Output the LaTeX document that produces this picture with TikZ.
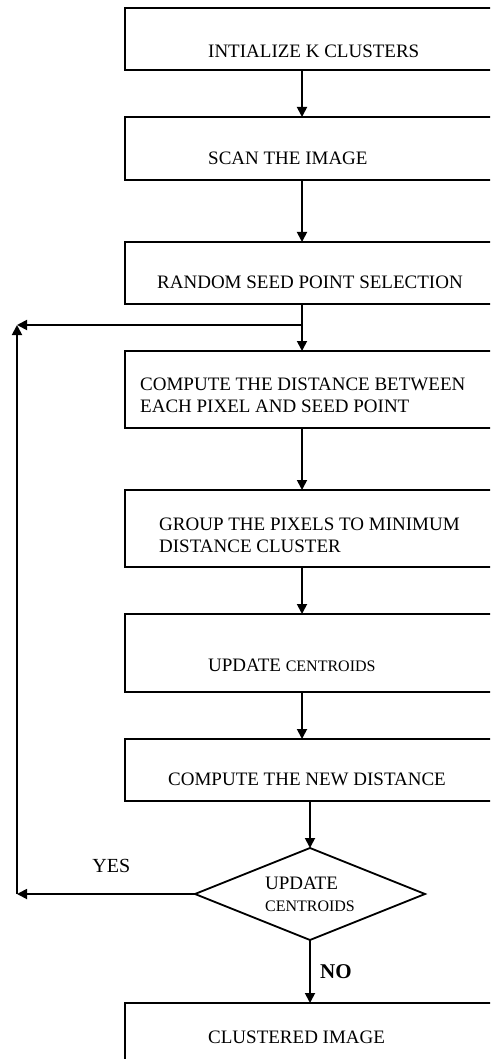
\documentclass[tikz,border=0pt]{standalone}
\usepackage{fontspec}
\setmainfont{Liberation Serif}
\usetikzlibrary{arrows.meta, positioning, shapes.geometric}

\begin{document}
\begin{tikzpicture}[
    x=1pt, y=-1pt,
    every node/.style={font=\fontsize{19}{22}\selectfont},
    process/.style={
        rectangle,
        draw=black,
        line width=1.8pt,
        minimum width=395pt,
        inner sep=0pt,
        outer sep=0pt
    },
    decision/.style={
        diamond,
        draw=black,
        line width=1.8pt,
        minimum width=230pt,
        minimum height=92pt,
        aspect=2.5,
        inner sep=0pt,
        outer sep=0pt,
        align=left
    },
    caption/.style={anchor=base west, inner sep=0pt, align=left},
    arrow/.style={line width=1.8pt, -{Triangle[length=10pt, width=10pt]}}
]
\useasboundingbox (0,0) rectangle (490,1059);
\clip (0,0) rectangle (490,1059);

\node[process, minimum height=62pt, anchor=north west] (init) at (125,8) {};
\node[process, minimum height=63pt, below=47pt of init] (scan) {};
\node[process, minimum height=62pt, below=62pt of scan] (random) {};
\node[process, minimum height=77pt, below=47pt of random] (compute) {};
\node[process, minimum height=77pt, below=62pt of compute] (group) {};
\node[process, minimum height=78pt, below=47pt of group] (update) {};
\node[process, minimum height=62pt, below=47pt of update] (newdist) {};
\node[decision, below=47pt of newdist, xshift=-12.5pt] (check) {UPDATE\\{\fontsize{16}{22}\selectfont CENTROIDS}};
\node[process, minimum height=80pt, below=63pt of check, xshift=12.5pt] (result) {};

\node[caption] (initText) at ([xshift=83pt, yshift=-50pt]init.north west) {INTIALIZE K CLUSTERS};
\node[caption] (scanText) at ([xshift=83pt, yshift=-48pt]scan.north west) {SCAN THE IMAGE};
\node[caption] (randomText) at ([xshift=32pt, yshift=-46pt]random.north west) {RANDOM SEED POINT SELECTION};
\node[caption] (computeText) at ([xshift=15pt, yshift=-61pt]compute.north west) {COMPUTE THE DISTANCE BETWEEN\\EACH PIXEL AND SEED POINT};
\node[caption] (groupText) at ([xshift=34pt, yshift=-62pt]group.north west) {GROUP THE PIXELS TO MINIMUM\\DISTANCE CLUSTER};
\node[caption] (updateText) at ([xshift=83pt, yshift=-57pt]update.north west) {UPDATE {\fontsize{16}{22}\selectfont CENTROIDS}};
\node[caption] (newdistText) at ([xshift=43pt, yshift=-46pt]newdist.north west) {COMPUTE THE NEW DISTANCE};
\node[caption] (resultText) at ([xshift=83pt, yshift=-40pt]result.north west) {CLUSTERED IMAGE};

\coordinate (spine) at (302,0);
\coordinate (tap) at (302,325);
\coordinate (loop) at (17,325);

\foreach \a/\b in {init/scan, scan/random, random/compute, compute/group, group/update, update/newdist}
    \draw[arrow] (\a.south -| spine) -- (\b.north -| spine);
\draw[arrow] (tap) -- (loop);
\draw[arrow] (newdist.south -| check.north) -- (check.north);
\draw[arrow] (check.west) -- node[above=17pt, pos=0.47, font=\fontsize{20}{22}\selectfont]{YES} (check.west -| loop);
\draw[arrow] (check.west -| loop) -- (loop);
\draw[arrow] (check.south) -- node[right=6pt, font=\bfseries\fontsize{21}{22}\selectfont]{NO} (result.north -| check.south);

\end{tikzpicture}
\end{document}
